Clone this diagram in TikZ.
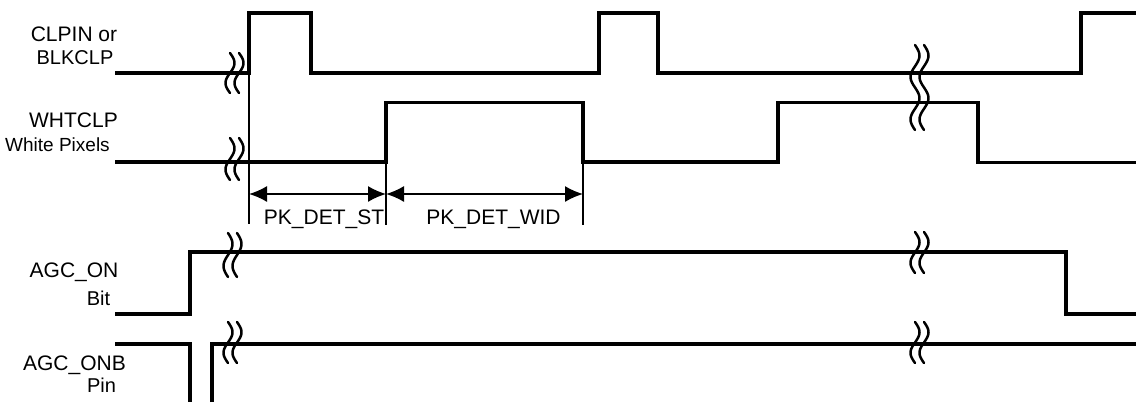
\documentclass[tikz,border=0pt]{standalone}
\usepackage{fontspec}
\setmainfont{Liberation Sans}
\usetikzlibrary{arrows.meta}

\newcommand{\squig}[4]{%
  \foreach \dx in {0,9}
    \draw [brk] plot [domain=0:1, samples=40, smooth] ({#1+\dx+4.5*sin(360*#4*\x)}, {#2+(#3-#2)*\x});}

\begin{document}
\begin{tikzpicture}[x=1pt, y=-1pt,
    wave/.style={draw, line width=3.1pt, line join=miter},
    guide/.style={draw, line width=1.5pt},
    dim/.style={draw, line width=1.6pt, {Latex[length=18pt,width=16pt]}-{Latex[length=18pt,width=16pt]}},
    brk/.style={draw, line width=2.5pt, line cap=round},
    lbl/.style={font=\fontsize{21}{24}\selectfont, inner sep=0pt, anchor=base},
    small/.style={lbl, font=\fontsize{20}{23}\selectfont}]

    \useasboundingbox (0,0) rectangle (1136,402);

    \node [lbl] (clpin) at (74,41) {CLPIN or};
    \node [small] (blkclp) at (75,64) {BLKCLP};
    \node [lbl] (whtclp) at (73.5,127) {WHTCLP};
    \node [lbl, font=\fontsize{19}{22}\selectfont] (white) at (57.5,151) {White Pixels};
    \node [lbl] (agcon) at (74,277) {AGC\_ON};
    \node [small] (bit) at (98.5,305) {Bit};
    \node [lbl] (agconb) at (74.5,370) {AGC\_ONB};
    \node [small] (pin) at (101.5,392) {Pin};

    \path [wave] (115,73) -- (249,73) -- (249,13) -- (311,13) -- (311,73) -- (599,73) -- (599,13)
        -- (658,13) -- (658,73) -- (1081,73) -- (1081,13) -- (1136,13);
    \path [wave] (115,162) -- (386,162) -- (386,102.5) -- (583,102.5) -- (583,162) -- (778,162)
        -- (778,102.5) -- (978,102.5) -- (978,162.5) -- (1136,162.5);
    \path [wave] (115,314) -- (190,314) -- (190,252) -- (1066,252) -- (1066,314) -- (1136,314);
    \path [wave] (115,344) -- (190,344) -- (190,402);
    \path [wave] (212,402) -- (212,344) -- (1136,344);

    \coordinate (g1t) at (249,73);   \coordinate (g1b) at (249,224);
    \coordinate (g2t) at (386,162);  \coordinate (g2b) at (386,225);
    \coordinate (g3t) at (583,162);  \coordinate (g3b) at (583,225);
    \path [guide] (g1t) -- (g1b);
    \path [guide] (g2t) -- (g2b);
    \path [guide] (g3t) -- (g3b);

    \coordinate (a1) at (249,194);
    \coordinate (a2) at (386,194);
    \coordinate (a3) at (583,194);
    \path [dim] (a1) -- (a2);
    \path [dim] (a2) -- (a3);
    \node [lbl] (pkst) at (324,224) {PK\_DET\_ST};
    \node [lbl] (pkwid) at (493.5,224) {PK\_DET\_WID};

    \squig{230}{53}{93}{1}
    \squig{230}{138}{180}{1}
    \squig{228}{233}{277}{1}
    \squig{228}{322}{363}{1}
    \squig{915}{45}{130}{2}
    \squig{915}{232}{273}{1}
    \squig{915}{322}{363}{1}
\end{tikzpicture}
\end{document}
